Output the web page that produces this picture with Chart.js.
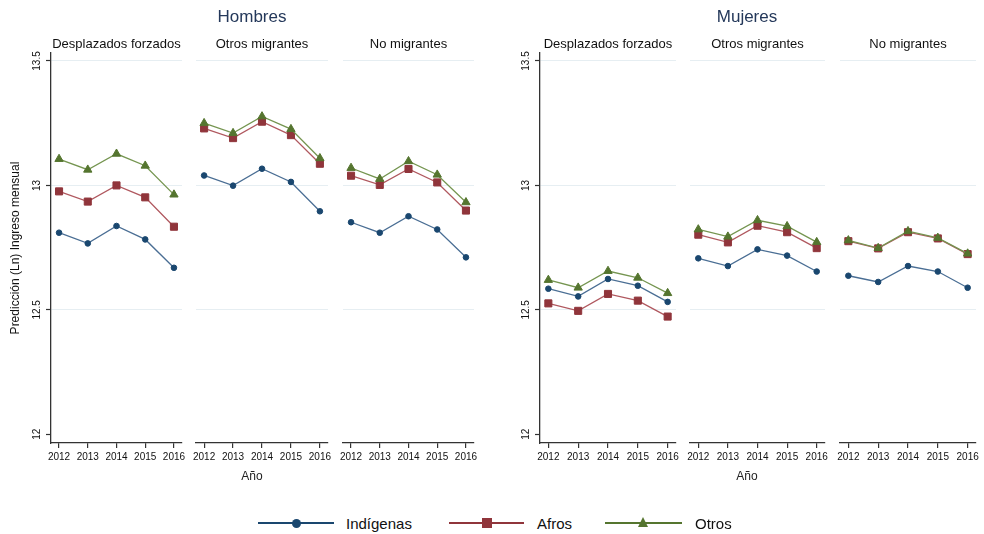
<!DOCTYPE html>
<html>
<head>
<meta charset="utf-8">
<title>Predicción (Ln) Ingreso mensual</title>
<script src="https://cdn.jsdelivr.net/npm/chart.js@4.4.0/dist/chart.umd.min.js"></script>
<style>
  html, body { margin: 0; padding: 0; background: #fff; }
  #wrap { position: relative; width: 984px; height: 534px; overflow: hidden;
          font-family: "Liberation Sans", Arial, sans-serif; }
  #wrap canvas { position: absolute; }
  .txt { position: absolute; white-space: nowrap; transform: translate(-50%, -50%); line-height: 1; }
  .gtitle { font-size: 17px; color: #24385a; }
  .ptitle { font-size: 13px; color: #111; }
  .xtitle { font-size: 12px; color: #222; }
  .lg-line { position: absolute; height: 2px; }
  .lg-text { position: absolute; font-size: 15px; color: #111; transform: translateY(-50%); line-height: 1; }
</style>
</head>
<body>
<div id="wrap"></div>
<script>
// ---- data -------------------------------------------------------------
const years = [2012, 2013, 2014, 2015, 2016];
const yTickValues = [12, 12.5, 13, 13.5];
const panelTitles = ['Desplazados forzados', 'Otros migrantes', 'No migrantes'];
const seriesNames = ['Indígenas', 'Afros', 'Otros'];

// Hombres
const hDesplazadosIndigenas = [12.810, 12.767, 12.837, 12.783, 12.669];
const hDesplazadosAfros     = [12.976, 12.935, 13.000, 12.952, 12.834];
const hDesplazadosOtros     = [13.106, 13.063, 13.127, 13.079, 12.963];
const hOtrosMigIndigenas    = [13.040, 12.999, 13.067, 13.014, 12.896];
const hOtrosMigAfros        = [13.229, 13.190, 13.256, 13.202, 13.087];
const hOtrosMigOtros        = [13.250, 13.210, 13.277, 13.226, 13.109];
const hNoMigIndigenas       = [12.852, 12.810, 12.876, 12.823, 12.711];
const hNoMigAfros           = [13.039, 13.002, 13.066, 13.012, 12.899];
const hNoMigOtros           = [13.070, 13.026, 13.097, 13.043, 12.932];

// Mujeres
const mDesplazadosIndigenas = [12.585, 12.554, 12.624, 12.597, 12.532];
const mDesplazadosAfros     = [12.526, 12.496, 12.564, 12.537, 12.473];
const mDesplazadosOtros     = [12.620, 12.589, 12.656, 12.629, 12.567];
const mOtrosMigIndigenas    = [12.707, 12.676, 12.743, 12.718, 12.654];
const mOtrosMigAfros        = [12.802, 12.771, 12.838, 12.812, 12.748];
const mOtrosMigOtros        = [12.823, 12.794, 12.860, 12.836, 12.772];
const mNoMigIndigenas       = [12.637, 12.612, 12.676, 12.654, 12.589];
const mNoMigAfros           = [12.776, 12.747, 12.812, 12.787, 12.724];
const mNoMigOtros           = [12.779, 12.748, 12.816, 12.789, 12.726];

// ---- styling ----------------------------------------------------------
const FONT = '"Liberation Sans", Arial, sans-serif';
const AXIS = '#333';
const GRID = '#e6eef2';
const styles = [
  { fill: '#1a476f', line: '#4a6e94', pointStyle: 'circle',   radius: 2.8, order: 3 },
  { fill: '#90353b', line: '#b0585f', pointStyle: 'rect',     radius: 5.0, order: 2 },
  { fill: '#55752f', line: '#759550', pointStyle: 'triangle', radius: 4.8, order: 1 }
];

// rotated y tick labels and y axis title
const yLabelPlugin = {
  id: 'yLabels',
  afterDraw(chart, args, opts) {
    if (!opts.show) return;
    const ctx = chart.ctx, y = chart.scales.y;
    ctx.save();
    ctx.fillStyle = '#111';
    ctx.textAlign = 'center';
    ctx.textBaseline = 'middle';
    ctx.font = '10px ' + FONT;
    y.ticks.forEach(t => {
      const py = y.getPixelForValue(t.value);
      ctx.save();
      ctx.translate(y.right - 14, py);
      ctx.rotate(-Math.PI / 2);
      ctx.fillText(String(t.value), 0, 0);
      ctx.restore();
    });
    if (opts.title) {
      ctx.font = '12px ' + FONT;
      ctx.translate(16, (chart.chartArea.top + chart.chartArea.bottom) / 2);
      ctx.rotate(-Math.PI / 2);
      ctx.fillText(opts.title, 0, 0);
    }
    ctx.restore();
  }
};

const wrap = document.getElementById('wrap');
const AREA_TOP = 53, AREA_BOTTOM = 443, PAD_TOP = 8, X_AXIS_H = 30, SIDE_PAD = 12;

function makePanel(p) {
  const axisW = p.axisW || 0;
  const leftSpace = axisW || SIDE_PAD;
  const cv = document.createElement('canvas');
  const w = (p.r - p.l) + leftSpace + SIDE_PAD;
  const h = PAD_TOP + (AREA_BOTTOM - AREA_TOP) + X_AXIS_H;
  cv.width = w; cv.height = h;
  cv.style.width = w + 'px'; cv.style.height = h + 'px';
  cv.style.left = (p.l - leftSpace) + 'px';
  cv.style.top = (AREA_TOP - PAD_TOP) + 'px';
  wrap.appendChild(cv);

  const datasets = p.series.map((vals, i) => ({
    label: seriesNames[i],
    data: years.map((yr, k) => ({ x: yr, y: vals[k] })),
    borderColor: styles[i].line,
    borderWidth: 1.3,
    pointStyle: styles[i].pointStyle,
    pointRadius: styles[i].radius,
    pointBackgroundColor: styles[i].fill,
    pointBorderColor: styles[i].fill,
    pointBorderWidth: 1,
    order: styles[i].order,
    tension: 0,
    clip: false
  }));

  new Chart(cv, {
    type: 'line',
    data: { datasets },
    plugins: [yLabelPlugin],
    options: {
      responsive: false,
      animation: false,
      events: [],
      devicePixelRatio: 1,
      layout: { padding: { top: PAD_TOP, left: axisW ? 0 : SIDE_PAD, right: SIDE_PAD, bottom: 0 } },
      plugins: {
        legend: { display: false },
        tooltip: { enabled: false },
        yLabels: { show: !!axisW, title: p.yTitle || '' }
      },
      scales: {
        x: {
          type: 'linear',
          min: 2011.72, max: 2016.28,
          afterBuildTicks: s => { s.ticks = years.map(v => ({ value: v })); },
          afterFit: s => { s.height = X_AXIS_H; },
          border: { display: true, color: AXIS, width: 1.3 },
          grid: { display: true, drawOnChartArea: false, drawTicks: true, tickLength: 5,
                  color: AXIS, tickColor: AXIS, lineWidth: 1.2 },
          ticks: { padding: 3, color: '#111', font: { size: 10, family: FONT },
                   maxRotation: 0, minRotation: 0, autoSkip: false,
                   callback: v => String(v) }
        },
        y: {
          type: 'linear',
          min: 11.965, max: 13.532,
          afterBuildTicks: s => { s.ticks = yTickValues.map(v => ({ value: v })); },
          afterFit: s => { s.width = axisW; },
          border: { display: !!axisW, color: AXIS, width: 1.3 },
          grid: {
            display: true,
            color: c => (c.tick && c.tick.value === 12) ? 'rgba(0,0,0,0)' : GRID,
            lineWidth: 1,
            drawTicks: !!axisW, tickLength: 5, tickColor: AXIS, tickWidth: 1.2
          },
          ticks: { display: false }
        }
      }
    }
  });
}

const panels = [
  { l: 51,  r: 182, axisW: 51, yTitle: 'Predicción (Ln) Ingreso mensual',
    series: [hDesplazadosIndigenas, hDesplazadosAfros, hDesplazadosOtros] },
  { l: 196, r: 328, series: [hOtrosMigIndigenas, hOtrosMigAfros, hOtrosMigOtros] },
  { l: 343, r: 474, series: [hNoMigIndigenas, hNoMigAfros, hNoMigOtros] },
  { l: 540, r: 676, axisW: 40,
    series: [mDesplazadosIndigenas, mDesplazadosAfros, mDesplazadosOtros] },
  { l: 690, r: 825, series: [mOtrosMigIndigenas, mOtrosMigAfros, mOtrosMigOtros] },
  { l: 840, r: 976, series: [mNoMigIndigenas, mNoMigAfros, mNoMigOtros] }
];
panels.forEach(makePanel);

// ---- titles -----------------------------------------------------------
function addText(cls, text, x, y) {
  const d = document.createElement('div');
  d.className = 'txt ' + cls;
  d.textContent = text;
  d.style.left = x + 'px';
  d.style.top = y + 'px';
  wrap.appendChild(d);
}
addText('gtitle', 'Hombres', 252, 16);
addText('gtitle', 'Mujeres', 747, 16);
panels.forEach((p, i) => addText('ptitle', panelTitles[i % 3], (p.l + p.r) / 2, 43));
addText('xtitle', 'Año', 252, 476);
addText('xtitle', 'Año', 747, 476);

// ---- legend -----------------------------------------------------------
const legendItems = [
  { x0: 258, x1: 334, tx: 346 },
  { x0: 449, x1: 524, tx: 537 },
  { x0: 605, x1: 682, tx: 695 }
];
const LEG_Y = 523;
legendItems.forEach((it, i) => {
  const ln = document.createElement('div');
  ln.className = 'lg-line';
  ln.style.left = it.x0 + 'px';
  ln.style.width = (it.x1 - it.x0) + 'px';
  ln.style.top = (LEG_Y - 1) + 'px';
  ln.style.background = styles[i].fill;
  wrap.appendChild(ln);

  const cx = (it.x0 + it.x1) / 2;
  const mk = document.createElement('div');
  mk.style.position = 'absolute';
  if (i === 0) {
    Object.assign(mk.style, { width: '9px', height: '9px', borderRadius: '50%',
      background: styles[0].fill, left: (cx - 4.5) + 'px', top: (LEG_Y - 4.5) + 'px' });
  } else if (i === 1) {
    Object.assign(mk.style, { width: '10px', height: '10px',
      background: styles[1].fill, left: (cx - 5) + 'px', top: (LEG_Y - 5) + 'px' });
  } else {
    Object.assign(mk.style, { width: '0', height: '0',
      borderLeft: '5.5px solid transparent', borderRight: '5.5px solid transparent',
      borderBottom: '10px solid ' + styles[2].fill,
      left: (cx - 5.5) + 'px', top: (LEG_Y - 6) + 'px' });
  }
  wrap.appendChild(mk);

  const tx = document.createElement('div');
  tx.className = 'lg-text';
  tx.textContent = seriesNames[i];
  tx.style.left = it.tx + 'px';
  tx.style.top = LEG_Y + 'px';
  wrap.appendChild(tx);
});
</script>
</body>
</html>
